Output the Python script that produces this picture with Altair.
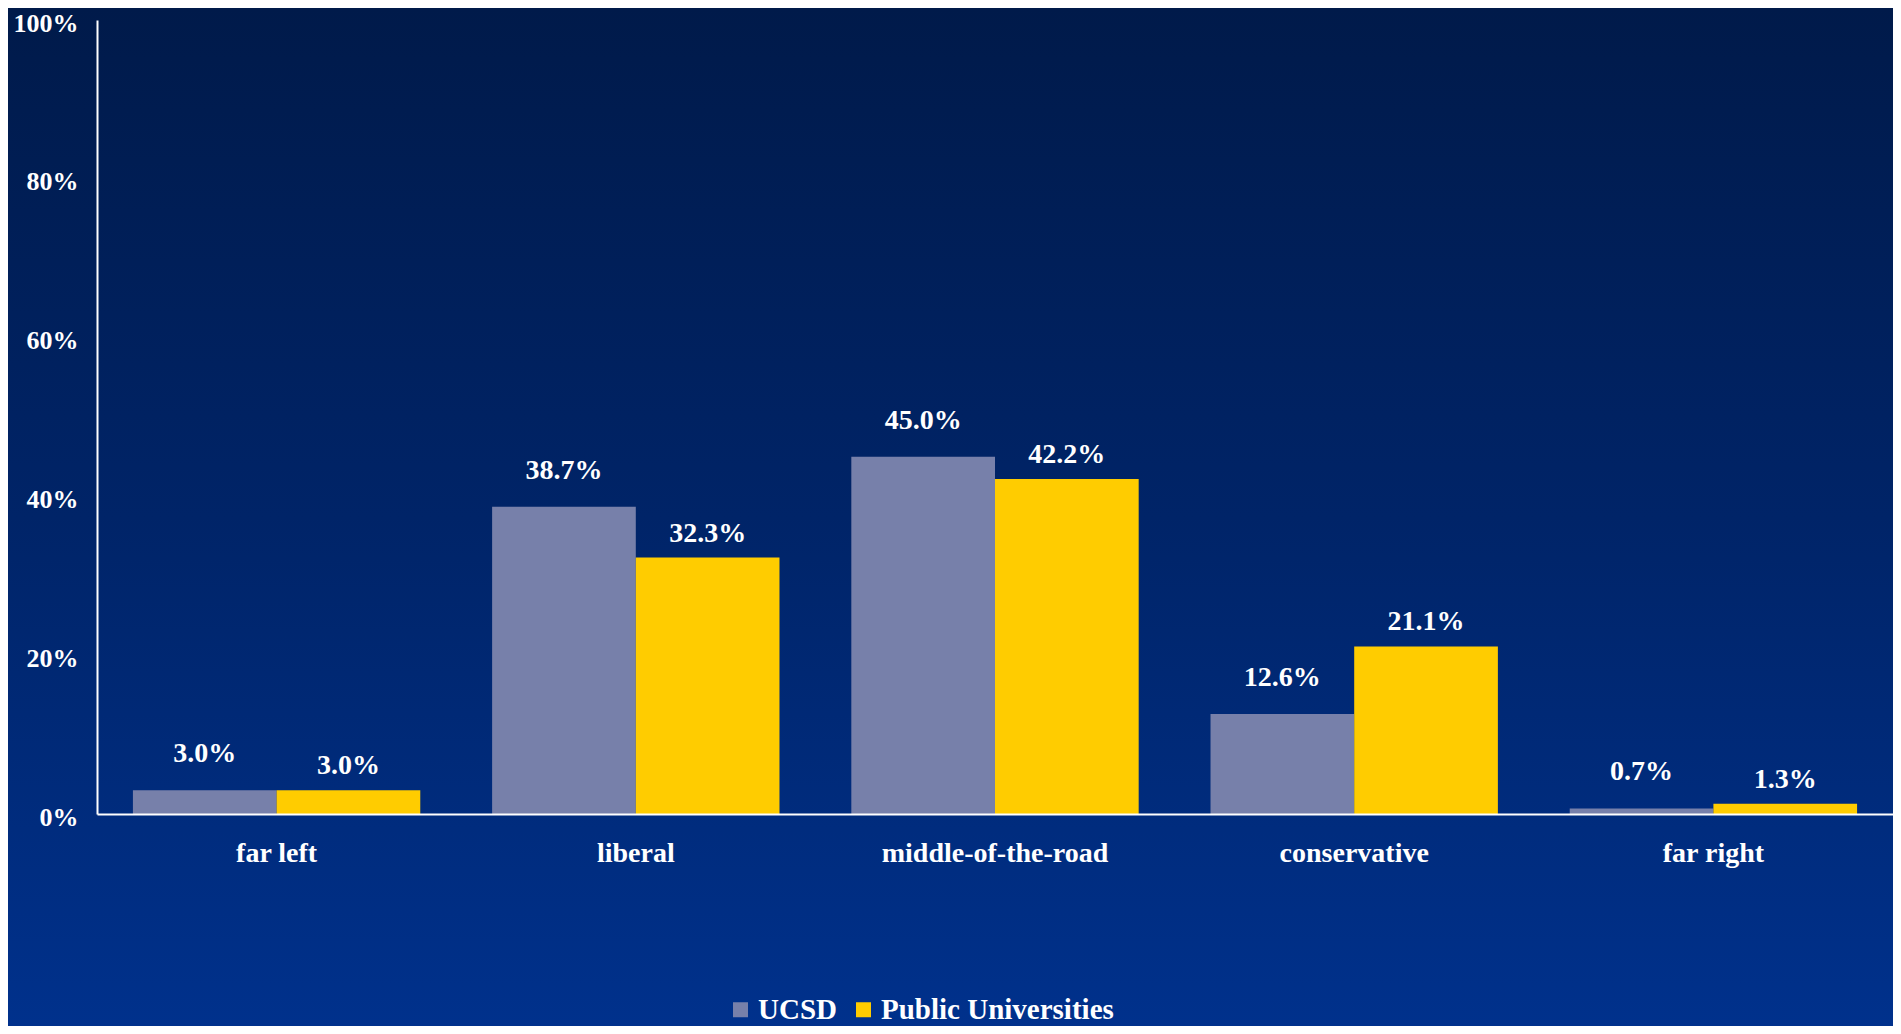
import altair as alt
import pandas as pd

# ---- data ----
categories = ["far left", "liberal", "middle-of-the-road", "conservative", "far right"]
series = ["UCSD", "Public Universities"]
ucsd = [3.0, 38.7, 45.0, 12.6, 0.7]
public = [3.0, 32.3, 42.2, 21.1, 1.3]
y_ticks = [0, 20, 40, 60, 80, 100]

rows = []
for c, u, p in zip(categories, ucsd, public):
    rows.append({"category": c, "series": series[0], "value": u})
    rows.append({"category": c, "series": series[1], "value": p})
df = pd.DataFrame(rows)

# ---- layout / style ----
FONT = "Liberation Serif"
W_TOTAL, H_TOTAL = 1885, 1018   # page minus the 8px body margin on each side
PAD_L, PAD_T = 89, 12
PLOT_W = W_TOTAL - PAD_L
PLOT_H = 794
PAD_B = H_TOTAL - PAD_T - PLOT_H
COLORS = ["#7780AA", "#FFCC00"]

x_enc = alt.X(
    "category:N",
    sort=categories,
    scale=alt.Scale(paddingInner=0.2, paddingOuter=0.1),
    axis=alt.Axis(
        title=None, labelAngle=0, ticks=False, labelPadding=25, labelLimit=0,
        labelFont=FONT, labelFontSize=28, labelFontWeight="bold", labelColor="white",
        domainColor="white", domainWidth=2, zindex=1,
    ),
)
xoff_enc = alt.XOffset("series:N", sort=series, scale=alt.Scale(domain=series))
y_enc = alt.Y(
    "value:Q",
    scale=alt.Scale(domain=[0, 100], nice=False),
    axis=alt.Axis(
        title=None, values=y_ticks, labelExpr="datum.value + '%'", ticks=False, grid=False,
        labelPadding=19, labelOffset=3, labelLimit=0,
        labelFont=FONT, labelFontSize=26, labelFontWeight="bold", labelColor="white",
        domainColor="white", domainWidth=2, zindex=1,
    ),
)

bg = alt.Chart(pd.DataFrame({"bg": [0]})).mark_rect(
    color=alt.LinearGradient(
        gradient="linear",
        stops=[
            alt.GradientStop(color="#001a4a", offset=0),
            alt.GradientStop(color="#002468", offset=0.5),
            alt.GradientStop(color="#00318c", offset=1),
        ],
        x1=0, x2=0, y1=0, y2=1,
    )
).encode(
    x=alt.value(-PAD_L), x2=alt.value(PLOT_W),
    y=alt.value(-PAD_T), y2=alt.value(PLOT_H + PAD_B),
)

bars = alt.Chart(df).mark_bar(strokeWidth=0).encode(
    x=x_enc,
    xOffset=xoff_enc,
    y=y_enc,
    color=alt.Color(
        "series:N",
        sort=series,
        scale=alt.Scale(domain=series, range=COLORS),
        legend=alt.Legend(
            title=None, orient="none", direction="horizontal",
            legendX=629, legendY=975, padding=0,
            symbolType="square", symbolSize=225, symbolStrokeWidth=0, symbolOpacity=1,
            labelFont=FONT, labelFontSize=29, labelFontWeight="bold", labelColor="white",
            labelOffset=3, columnPadding=12, labelLimit=0,
        ),
    ),
)

def labels(name, lift):
    return alt.Chart(df).transform_filter(
        alt.datum.series == name
    ).transform_calculate(
        label="format(datum.value, '.1f') + '%'"
    ).mark_text(
        dy=-lift, baseline="middle", align="center",
        font=FONT, fontSize=28, fontWeight="bold", color="white",
    ).encode(
        x=x_enc, xOffset=xoff_enc, y=y_enc, text="label:N",
    )

chart = alt.layer(
    bg, bars, labels(series[0], 36), labels(series[1], 24)
).properties(
    width=PLOT_W,
    height=PLOT_H,
    autosize=alt.AutoSizeParams(type="none"),
    padding={"left": PAD_L, "top": PAD_T, "right": 0, "bottom": PAD_B},
    background="#00266e",
).configure_view(stroke=None)

chart.save("out.html", embed_options={"renderer": "svg", "actions": False})
